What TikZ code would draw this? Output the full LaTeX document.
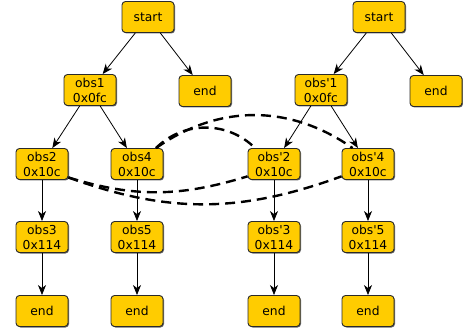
\documentclass[tikz,border=0pt]{standalone}
\usepackage{fontspec}
\setmainfont{DejaVu Sans}
\usetikzlibrary{arrows.meta,shadows}
\definecolor{boxfill}{HTML}{FFCC00}
\definecolor{boxline}{HTML}{2A2A2A}
\newcommand{\pq}{\textquotesingle}
\begin{document}
\begin{tikzpicture}[x=1pt,y=-1pt,
  box/.style={draw=boxline,line width=0.9pt,fill=boxfill,rounded corners=3.5pt,
    minimum width=52pt,minimum height=31pt,inner sep=1pt,align=center,
    font=\fontsize{12.3}{15}\selectfont,
    drop shadow={shadow xshift=1pt,shadow yshift=-1pt,opacity=0.6,fill=black}},
  arr/.style={draw=black,line width=0.8pt,-{Stealth[length=10pt,width=8pt,inset=3pt]}},
  link/.style={draw=black,line width=2.4pt,dash pattern=on 10pt off 6pt}]
\useasboundingbox (0,0) rectangle (463,331);
% left tree
\node[box] (s1) at (148,17) {start};
\node[box] (o1) at (90,90) {obs1\\0x0fc};
\node[box] (e1) at (205,91) {end};
\node[box] (o2) at (42,164) {obs2\\0x10c};
\node[box] (o4) at (137,164) {obs4\\0x10c};
\node[box] (o3) at (42,237) {obs3\\0x114};
\node[box] (o5) at (137,237) {obs5\\0x114};
\node[box] (e3) at (42,311) {end};
\node[box] (e5) at (137,311) {end};
% right tree
\node[box] (t1) at (379,17) {start};
\node[box] (p1) at (321,90) {obs\pq1\\0x0fc};
\node[box] (f1) at (436,91) {end};
\node[box] (p2) at (274,164) {obs\pq2\\0x10c};
\node[box] (p4) at (368,164) {obs\pq4\\0x10c};
\node[box] (p3) at (274,237) {obs\pq3\\0x114};
\node[box] (p5) at (368,237) {obs\pq5\\0x114};
\node[box] (f3) at (274,311) {end};
\node[box] (f5) at (368,311) {end};
% arrows
\draw[arr] (s1) -- (o1);
\draw[arr] (s1) -- (e1);
\draw[arr] (o1) -- (o2);
\draw[arr] (o1) -- (o4);
\draw[arr] (o2) -- (o3);
\draw[arr] (o4) -- (o5);
\draw[arr] (o3) -- (e3);
\draw[arr] (o5) -- (e5);
\draw[arr] (t1) -- (p1);
\draw[arr] (t1) -- (f1);
\draw[arr] (p1) -- (p2);
\draw[arr] (p1) -- (p4);
\draw[arr] (p2) -- (p3);
\draw[arr] (p4) -- (p5);
\draw[arr] (p3) -- (f3);
\draw[arr] (p5) -- (f5);
% dashed links
\draw[link] (o4.40) to[out=35,in=145] (p4.134);
\draw[link] (o4.40) to[out=45,in=135] (p2.140);
\draw[link] (o2.-27) to[out=-17,in=197] (p2.205);
\draw[link] (o2.-27) to[out=-20,in=200] (p4.205);
\end{tikzpicture}
\end{document}
